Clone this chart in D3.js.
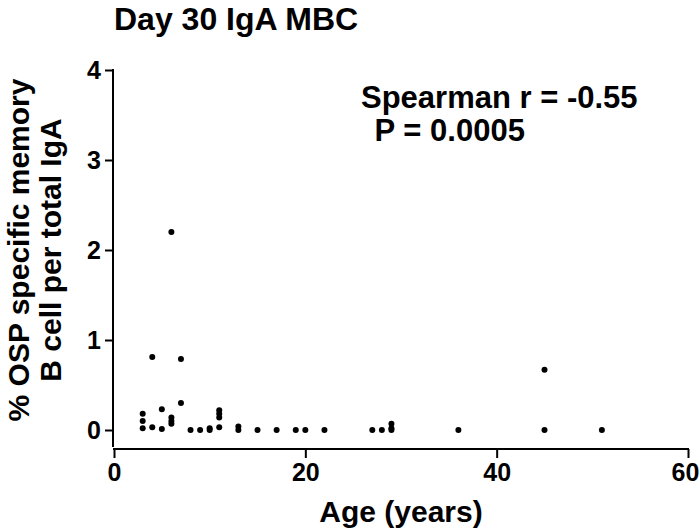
<!DOCTYPE html>
<html>
<head>
<meta charset="utf-8">
<script src="https://cdn.jsdelivr.net/npm/d3@7"></script>
<style>
  body { margin: 0; background: #fff; }
  text { font-family: "Liberation Sans", Arial, sans-serif; font-weight: bold; fill: #000; }
</style>
</head>
<body>
<svg id="chart" width="700" height="530"></svg>
<script>
// Data: age (years) and % OSP specific memory B cell per total IgA
const ages   = [3, 3, 3, 4, 4, 5, 5, 6, 6, 6, 6, 7, 7, 8, 9, 10, 10, 11, 11, 11, 11, 13, 13, 15, 17, 19, 20, 22, 27, 28, 29, 29, 29, 36, 45, 45, 51];
const values = [0.18, 0.10, 0.02, 0.81, 0.03, 0.23, 0.01, 2.20, 0.14, 0.10, 0.07, 0.79, 0.30, 0.00, 0.00, 0.00, 0.02, 0.22, 0.18, 0.14, 0.03, 0.04, 0.00, 0.00, 0.00, 0.00, 0.00, 0.00, 0.00, 0.00, 0.07, 0.02, 0.00, 0.00, 0.67, 0.00, 0.00];
const xTicks = [0, 20, 40, 60];
const yTicks = [0, 1, 2, 3, 4];
const title = "Day 30 IgA MBC";
const xTitle = "Age (years)";
const yTitle = ["% OSP specific memory", "B cell per total IgA"];
const stats = ["Spearman r = -0.55", " P = 0.0005"];

const svg = d3.select("#chart");
const x = d3.scaleLinear().domain([0, 60]).range([114, 688]);
const y = d3.scaleLinear().domain([0, 4]).range([430, 70]);
const xAxisY = 449;
const yAxisX = 113;

// Y axis
const gy = svg.append("g").attr("transform", `translate(${yAxisX},0)`)
  .call(d3.axisLeft(y).tickValues(yTicks).tickFormat(d3.format("d")).tickSize(8).tickPadding(4).tickSizeOuter(0));
gy.select(".domain").remove();
gy.selectAll(".tick line").attr("stroke", "#000").attr("stroke-width", 2);
gy.selectAll(".tick text").style("font-size", "25px");
svg.append("line").attr("x1", yAxisX).attr("x2", yAxisX)
  .attr("y1", y(4) - 1).attr("y2", xAxisY - 2).attr("stroke", "#000").attr("stroke-width", 2);

// X axis
const gx = svg.append("g").attr("transform", `translate(0,${xAxisY})`)
  .call(d3.axisBottom(x).tickValues(xTicks).tickFormat(d3.format("d")).tickSize(9).tickPadding(5).tickSizeOuter(0));
gx.select(".domain").remove();
gx.selectAll(".tick line").attr("stroke", "#000").attr("stroke-width", 2);
gx.selectAll(".tick text").style("font-size", "25px")
  .attr("dx", d => d === 60 ? -3 : 0);
svg.append("line").attr("x1", x(0) - 1).attr("x2", x(60) + 1)
  .attr("y1", xAxisY).attr("y2", xAxisY).attr("stroke", "#000").attr("stroke-width", 2);

// Points
const pts = ages.map((a, i) => ({ a, v: values[i] }));
svg.append("g").selectAll("circle").data(pts).join("circle")
  .attr("cx", d => x(d.a)).attr("cy", d => y(d.v)).attr("r", 3).attr("fill", "#000");

// Title
svg.append("text").attr("x", 114).attr("y", 30).style("font-size", "32px").text(title);

// X title
svg.append("text").attr("x", (x(0) + x(60)) / 2).attr("y", 522)
  .attr("text-anchor", "middle").style("font-size", "30px").text(xTitle);

// Y title
const cy = (y(0) + y(4)) / 2;
yTitle.forEach((t, i) => {
  svg.append("text")
    .attr("transform", `translate(${29 + i * 32},${cy}) rotate(-90)`)
    .attr("text-anchor", "middle").style("font-size", "30px").text(t);
});

// Stats annotation
svg.append("text").attr("x", 361).attr("y", 108).style("font-size", "31px").text(stats[0]);
svg.append("text").attr("x", 366).attr("y", 141).style("font-size", "31px")
  .attr("xml:space", "preserve").style("white-space", "pre").text(stats[1]);
</script>
</body>
</html>
